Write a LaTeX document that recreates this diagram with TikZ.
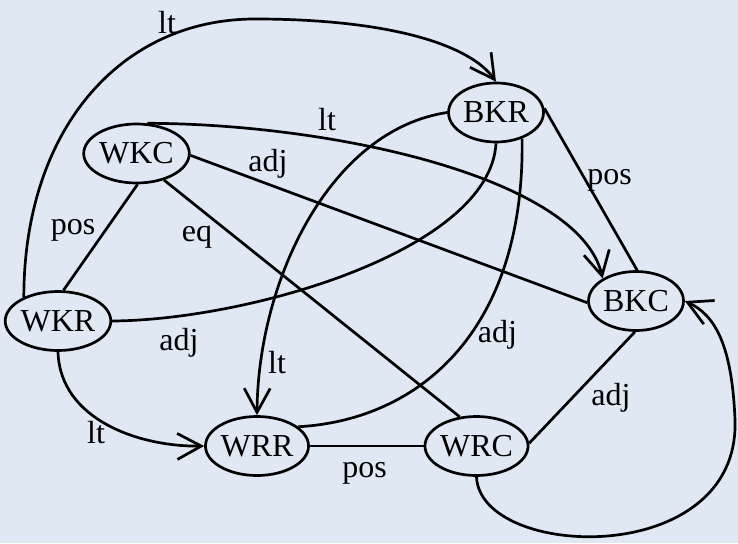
\documentclass[tikz,border=0pt]{standalone}
\usepackage{fontspec}
\setmainfont{Liberation Serif}
\usetikzlibrary{arrows.meta,shapes.geometric}
\definecolor{bg}{RGB}{223,232,243}
\begin{document}
\begin{tikzpicture}[x=1pt,y=-1pt,
  state/.style={ellipse,draw,line width=2.7pt,minimum width=95pt,minimum height=59pt,inner sep=0pt,font=\fontsize{32}{38}\selectfont},
  lbl/.style={inner sep=0pt,font=\fontsize{32}{38}\selectfont},
  edge/.style={line width=2.7pt},
  arr/.style={edge,-{Straight Barb[length=24pt,width=26pt]}}]
\fill[bg] (0,0) rectangle (738,543);
\useasboundingbox (0,0) rectangle (738,543);
% states
\node[state] (wkc) at (136.5,153.5) {WKC};
\node[state] (bkr) at (496,112.5) {BKR};
\node[state] (wkr) at (58,321) {WKR};
\node[state] (bkc) at (636,301) {BKC};
\node[state] (wrr) at (257,446) {WRR};
\node[state] (wrc) at (476.5,446) {WRC};
% connectors
\draw[arr] (wkr.145) .. controls (24,130) and (120,19) .. (255,19) .. controls (390,19) and (470,45) .. (bkr.90);
\draw[arr] (wkc.70) .. controls (340,124) and (580,180) .. (bkc.146);
\draw[edge] (wkc.358) -- (bkc.182);
\draw[edge] (wkc.272) -- (wkr.80);
\draw[edge] (wkc.316) -- (wrc.120);
\draw[arr] (bkr.180) .. controls (330,130) and (258,280) .. (wrr.90);
\draw[edge] (bkr.270) .. controls (490,250) and (250,320) .. (wkr.0);
\draw[edge] (bkr.315) .. controls (525,330) and (420,420) .. (wrr.25);
\draw[edge] (bkr.5) -- (bkc.88);
\draw[arr] (wkr.270) .. controls (60,420) and (140,447) .. (wrr.180);
\draw[edge] (wrr) -- (wrc);
\draw[edge] (wrc.3) -- (bkc.268);
\draw[arr] (wrc.270) .. controls (480,560) and (740,570) .. (735,420) .. controls (732,345) and (715,315) .. (bkc.0);
% labels
\node[lbl] (l1) at (167,22.5) {lt};
\node[lbl] (l2) at (327,120) {lt};
\node[lbl] (l3) at (268,164) {adj};
\node[lbl] (l4) at (73,230) {pos};
\node[lbl] (l5) at (197,237.5) {eq};
\node[lbl] (l6) at (609.5,180) {pos};
\node[lbl] (l7) at (179,343) {adj};
\node[lbl] (l8) at (277,362.5) {lt};
\node[lbl] (l9) at (96,432.5) {lt};
\node[lbl] (l10) at (364.5,473.5) {pos};
\node[lbl] (l11) at (497.5,335) {adj};
\node[lbl] (l12) at (611,397.5) {adj};
\end{tikzpicture}
\end{document}
